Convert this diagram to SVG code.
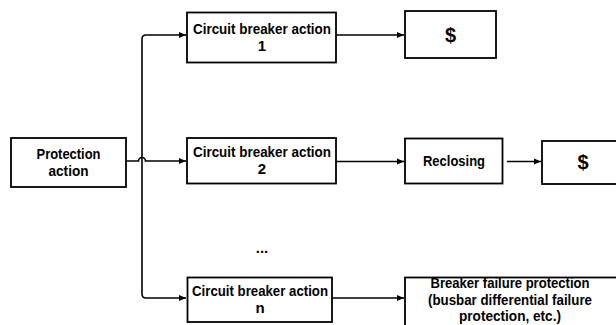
<svg xmlns="http://www.w3.org/2000/svg" width="616" height="325" viewBox="0 0 616 325">
<style>
.box{fill:#fff;stroke:#000;stroke-width:1.8}
.t{font-family:"Liberation Sans",Arial,sans-serif;font-weight:bold;font-size:15px;text-anchor:middle;fill:#000}
.s{font-size:14px}
.d{font-family:"Liberation Sans",Arial,sans-serif;font-weight:bold;font-size:20px;text-anchor:middle;fill:#000}
.c{fill:none;stroke:#000;stroke-width:1.6}
</style>
<defs>
<marker id="ah" markerWidth="8" markerHeight="8" refX="7" refY="4" orient="auto" markerUnits="userSpaceOnUse">
<path d="M0,1 L7,4 L0,7 Z" fill="#000"/>
</marker>
</defs>
<g id="connectors">
<path class="c" d="M142,161 V39 Q142,35 146,35 H186" marker-end="url(#ah)"/>
<path class="c" d="M142,161 V294 Q142,298 146,298 H186" marker-end="url(#ah)"/>
<path class="c" d="M126,161 H138.5 A3.5,3.5 0 0 1 145.5,161 H186" marker-end="url(#ah)"/>
<path class="c" d="M336,35 H404" marker-end="url(#ah)"/>
<path class="c" d="M336,161.5 H404" marker-end="url(#ah)"/>
<path class="c" d="M507,161.5 H541" marker-end="url(#ah)"/>
<path class="c" d="M332,298 H404" marker-end="url(#ah)"/>
</g>
<g id="protection">
<rect class="box" x="11" y="138" width="115" height="49"/>
<text class="t" x="68.5" y="159" textLength="64" lengthAdjust="spacingAndGlyphs">Protection</text>
<text class="t" x="68.5" y="176" textLength="40" lengthAdjust="spacingAndGlyphs">action</text>
</g>
<g id="cb1">
<rect class="box" x="187" y="12.5" width="149" height="50"/>
<text class="t" x="262" y="34" textLength="138" lengthAdjust="spacingAndGlyphs">Circuit breaker action</text>
<text class="t" x="262" y="51">1</text>
</g>
<g id="dollar1">
<rect class="box" x="405" y="11" width="91" height="47"/>
<text class="d" x="450.5" y="42">$</text>
</g>
<g id="cb2">
<rect class="box" x="187" y="138" width="149" height="45.5"/>
<text class="t" x="262" y="157" textLength="138" lengthAdjust="spacingAndGlyphs">Circuit breaker action</text>
<text class="t" x="262" y="174">2</text>
</g>
<g id="reclosing">
<rect class="box" x="405" y="138.5" width="97.5" height="45"/>
<text class="t" x="454" y="166" textLength="62" lengthAdjust="spacingAndGlyphs">Reclosing</text>
</g>
<g id="dollar2">
<rect class="box" x="542" y="141" width="80" height="43"/>
<text class="d" x="583" y="168.5">$</text>
</g>
<g id="ellipsis">
<text class="t" x="262" y="253">...</text>
</g>
<g id="cbn">
<rect class="box" x="187.5" y="277.5" width="144.5" height="44.5"/>
<text class="t" x="260" y="296" textLength="136" lengthAdjust="spacingAndGlyphs">Circuit breaker action</text>
<text class="t" x="260" y="313">n</text>
</g>
<g id="bfp">
<rect class="box" x="405" y="277.5" width="215" height="52"/>
<text class="t s" x="510" y="288" textLength="159" lengthAdjust="spacingAndGlyphs">Breaker failure protection</text>
<text class="t s" x="510" y="304.5" textLength="164" lengthAdjust="spacingAndGlyphs">(busbar differential failure</text>
<text class="t s" x="510" y="321" textLength="102" lengthAdjust="spacingAndGlyphs">protection, etc.)</text>
</g>
</svg>
